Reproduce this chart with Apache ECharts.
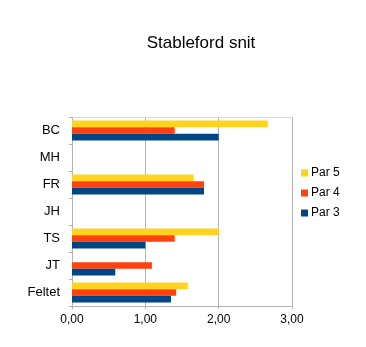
<!DOCTYPE html>
<html>
<head>
<meta charset="utf-8">
<script src="https://cdn.jsdelivr.net/npm/echarts@6/dist/echarts.min.js"></script>
<style>html,body{margin:0;padding:0;background:#fff}#c{width:366px;height:347px}</style>
</head>
<body>
<div id="c"></div>
<script>
// Categories bottom-to-top (displayed top: BC ... bottom: Feltet)
const categories = ['Feltet', 'JT', 'TS', 'JH', 'FR', 'MH', 'BC'];
const par3 = [1.35, 0.59, 1.00, 0, 1.80, 0, 2.00];
const par4 = [1.42, 1.09, 1.40, 0, 1.80, 0, 1.40];
const par5 = [1.58, 0, 2.00, 0, 1.66, 0, 2.67];
const xTicks = [0, 1, 2, 3];

const chart = echarts.init(document.getElementById('c'));
const font = 'Liberation Sans, Arial, sans-serif';
chart.setOption({
  animation: false,
  title: {
    text: 'Stableford snit',
    left: 196, top: 30, textAlign: 'center',
    textStyle: {fontFamily: font, fontSize: 17, fontWeight: 'normal', color: '#000'}
  },
  legend: {
    orient: 'vertical', left: 296, top: 162, itemGap: 8,
    itemWidth: 7, itemHeight: 7, icon: 'rect',
    data: ['Par 5', 'Par 4', 'Par 3'],
    textStyle: {fontFamily: font, fontSize: 12, color: '#000', padding: [0, 0, 0, -2]}
  },
  grid: {left: 72, right: 74, top: 117, bottom: 41, containLabel: false},
  xAxis: [{
    type: 'value', min: xTicks[0], max: xTicks[xTicks.length - 1], interval: 1,
    axisLine: {show: true, lineStyle: {color: '#b3b3b3'}},
    axisTick: {show: true, length: 3, lineStyle: {color: '#b3b3b3'}},
    splitLine: {show: true, lineStyle: {color: '#b3b3b3', width: 1}},
    axisLabel: {fontFamily: font, fontSize: 12, color: '#000', margin: 8,
      formatter: v => v.toFixed(2).replace('.', ',')}
  }, {
    type: 'value', position: 'top', min: xTicks[0], max: xTicks[xTicks.length - 1], interval: 1,
    axisLine: {show: true, lineStyle: {color: '#d9d9d9'}},
    axisTick: {show: false}, splitLine: {show: false}, axisLabel: {show: false}
  }],
  yAxis: {
    type: 'category', data: categories,
    axisLine: {show: true, lineStyle: {color: '#b3b3b3'}},
    axisTick: {show: true, length: 3, lineStyle: {color: '#b3b3b3'}},
    axisLabel: {fontFamily: font, fontSize: 13, color: '#000', margin: 12}
  },
  series: [
    {name: 'Par 5', type: 'bar', data: par5, itemStyle: {color: '#ffd320'}, barGap: '0%', barCategoryGap: '26%'},
    {name: 'Par 4', type: 'bar', data: par4, itemStyle: {color: '#ff420e'}, barGap: '0%', barCategoryGap: '26%'},
    {name: 'Par 3', type: 'bar', data: par3, itemStyle: {color: '#004586'}, barGap: '0%', barCategoryGap: '26%'}
  ]
});
</script>
</body>
</html>
